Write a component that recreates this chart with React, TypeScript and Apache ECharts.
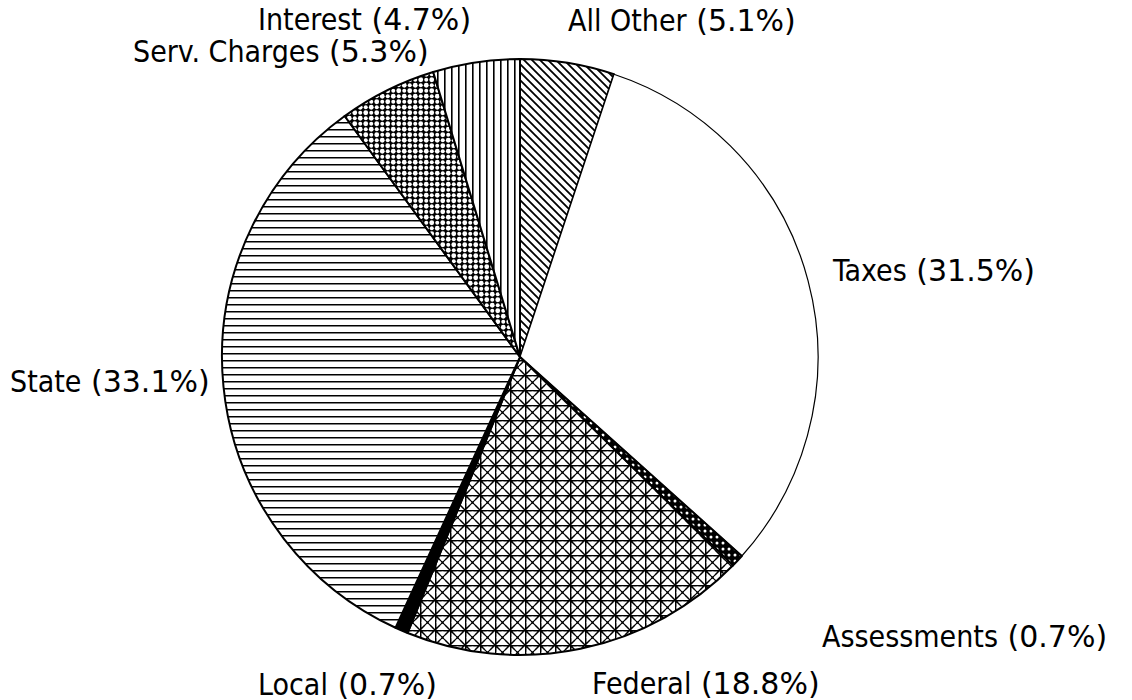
import React, { useEffect, useRef } from "react";
import * as echarts from "echarts";

// ---- data ----
const categories = [
  "All Other",
  "Taxes",
  "Assessments",
  "Federal",
  "Local",
  "State",
  "Serv. Charges",
  "Interest",
];
const shares = [5.1, 31.5, 0.7, 18.8, 0.7, 33.1, 5.3, 4.7];

// ---- label placement (left x, middle y) ----
const labelPos: [number, number][] = [
  [568, 20],
  [833, 270],
  [822, 636],
  [592, 683],
  [258, 684],
  [10, 381],
  [133, 51],
  [258, 19],
];

type PatKind =
  | "diag"
  | "white"
  | "dense"
  | "mesh"
  | "black"
  | "hlines"
  | "dots"
  | "vlines";
const patternKinds: PatKind[] = [
  "diag",
  "white",
  "dense",
  "mesh",
  "black",
  "hlines",
  "dots",
  "vlines",
];

function makePattern(kind: PatKind): any {
  if (kind === "white") return "#ffffff";
  if (kind === "black") return "#000000";
  let size = 8;
  if (kind === "mesh") size = 15;
  if (kind === "dots") size = 11;
  if (kind === "dense") size = 6;
  if (kind === "hlines" || kind === "vlines") size = 7;
  const c = document.createElement("canvas");
  c.width = size;
  c.height = size;
  const g = c.getContext("2d")!;
  g.fillStyle = "#fff";
  g.fillRect(0, 0, size, size);
  g.strokeStyle = "#000";
  g.fillStyle = "#000";
  if (kind === "hlines") {
    g.fillRect(0, 3, size, 1.5);
  } else if (kind === "vlines") {
    g.fillRect(3, 0, 1.6, size);
  } else if (kind === "diag") {
    g.lineWidth = 1.8;
    g.beginPath();
    g.moveTo(-2, -2);
    g.lineTo(size + 2, size + 2);
    g.moveTo(-2, size - 2);
    g.lineTo(2, size + 2);
    g.moveTo(size - 2, -2);
    g.lineTo(size + 2, 2);
    g.stroke();
  } else if (kind === "dense") {
    g.fillStyle = "#000";
    g.fillRect(0, 0, size, size);
    g.fillStyle = "#fff";
    g.beginPath();
    g.arc(3, 3, 1.5, 0, Math.PI * 2);
    g.fill();
  } else if (kind === "mesh") {
    g.lineWidth = 1.5;
    g.beginPath();
    g.moveTo(0, 0.75);
    g.lineTo(size, 0.75);
    g.moveTo(0.75, 0);
    g.lineTo(0.75, size);
    g.moveTo(0, 0);
    g.lineTo(size, size);
    g.moveTo(size, 0);
    g.lineTo(0, size);
    g.stroke();
    g.fillStyle = "#fff";
    const r = 2.1;
    const pts = [
      [7.5, 3.7],
      [7.5, 11.3],
      [3.7, 7.5],
      [11.3, 7.5],
    ];
    for (const [x, y] of pts) {
      g.beginPath();
      g.arc(x, y, r, 0, Math.PI * 2);
      g.fill();
    }
  } else if (kind === "dots") {
    g.fillStyle = "#000";
    g.fillRect(0, 0, size, size);
    g.fillStyle = "#fff";
    const pts = [
      [2.75, 2.75, 2.4],
      [8.25, 8.25, 2.4],
      [8.25, 2.75, 2.0],
      [2.75, 8.25, 2.0],
    ];
    for (const [x, y, r] of pts) {
      g.beginPath();
      g.arc(x, y, r, 0, Math.PI * 2);
      g.fill();
    }
  }
  return {
    image: c,
    repeat: "repeat",
    imageWidth: size,
    imageHeight: size,
  };
}

export default function App() {
  const ref = useRef<HTMLDivElement>(null);
  useEffect(() => {
    if (!ref.current) return;
    const chart = echarts.init(ref.current, null, { renderer: "svg" });
    const data = categories.map((name, i) => ({
      name,
      value: shares[i],
      itemStyle: {
        color: makePattern(patternKinds[i]),
        borderColor: "#000",
        borderWidth: name === "Taxes" ? 1.2 : 2,
      },
    }));
    chart.setOption({
      animation: false,
      backgroundColor: "#ffffff",
      series: [
        {
          type: "pie",
          center: [520, 357],
          radius: 298,
          startAngle: 90,
          clockwise: true,
          avoidLabelOverlap: false,
          data,
          label: {
            show: true,
            position: "outside",
            formatter: (p: any) => `{n|${p.name}}{p| (${p.value}%)}`,
            color: "#000",
            rich: {
              n: {
                fontFamily: "DejaVu Sans Condensed",
                fontSize: 30,
                color: "#000",
              },
              p: {
                fontFamily: "DejaVu Sans",
                fontSize: 30,
                color: "#000",
              },
            },
          },
          labelLine: { show: false },
          labelLayout: (params: any) => {
            const p = labelPos[params.dataIndex];
            return {
              x: p[0],
              y: p[1],
              align: "left",
              verticalAlign: "middle",
            };
          },
          emphasis: { disabled: true },
        },
      ],
    });
    return () => chart.dispose();
  }, []);
  return (
    <div
      ref={ref}
      style={{
        position: "fixed",
        left: 0,
        top: 0,
        width: 1132,
        height: 700,
        background: "#fff",
      }}
    />
  );
}
